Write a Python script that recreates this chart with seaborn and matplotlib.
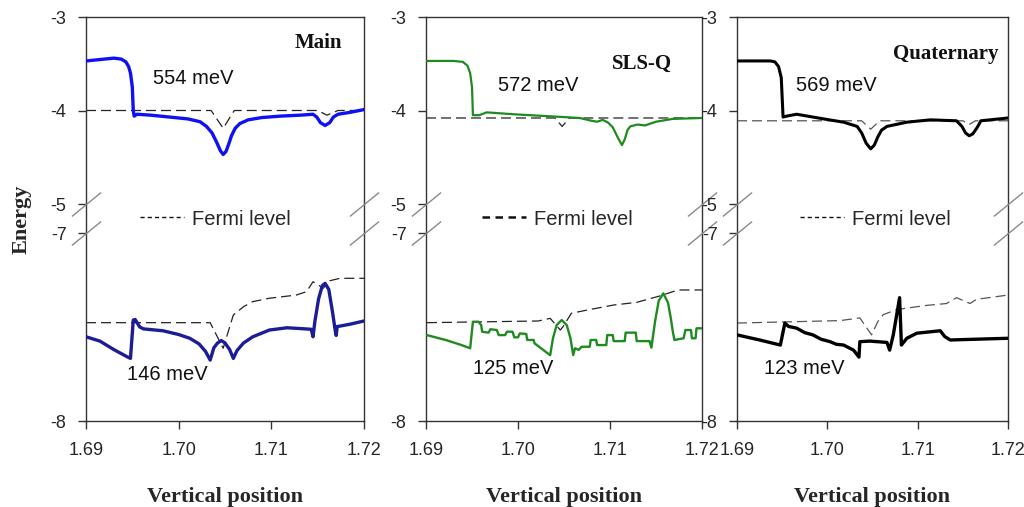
import numpy as np
import matplotlib
matplotlib.use("Agg")
import matplotlib.pyplot as plt
from matplotlib.lines import Line2D
import seaborn as sns

# ---------------- data ----------------
panel_titles = ["Main", "SLS-Q", "Quaternary"]
cb_gap_labels = ["554 meV", "572 meV", "569 meV"]
vb_gap_labels = ["146 meV", "125 meV", "123 meV"]
x_ticks = [1.69, 1.70, 1.71, 1.72]
y_ticks = [-8, -7, -5, -4, -3]

# Main
main_cb_x = [1.6900, 1.6915, 1.6930, 1.6938, 1.6943, 1.6946, 1.6948, 1.6950, 1.6951, 1.6952,
             1.6955, 1.6970, 1.6990, 1.7010, 1.7023, 1.7030, 1.7036, 1.7041, 1.7045, 1.7048,
             1.7051, 1.7054, 1.7057, 1.7061, 1.7066, 1.7075, 1.7090, 1.7110, 1.7131, 1.7145,
             1.7149, 1.7153, 1.7158, 1.7163, 1.7167, 1.7172, 1.7185, 1.7200]
main_cb_y = [-3.47, -3.455, -3.44, -3.45, -3.48, -3.53, -3.60, -3.75, -4.00, -4.06,
             -4.04, -4.05, -4.07, -4.09, -4.12, -4.17, -4.24, -4.34, -4.43, -4.47,
             -4.44, -4.36, -4.27, -4.19, -4.14, -4.10, -4.075, -4.06, -4.05, -4.04,
             -4.07, -4.13, -4.16, -4.13, -4.07, -4.04, -4.02, -3.99]
main_fe_x = [1.6900, 1.7035, 1.7048, 1.7060, 1.7150, 1.7160, 1.7172, 1.7200]
main_fe_y = [-4.00, -4.00, -4.19, -4.00, -4.00, -4.05, -4.00, -4.00]
main_vb_x = [1.6900, 1.6915, 1.6930, 1.6945, 1.6948, 1.6951, 1.6953, 1.6958, 1.6962, 1.6983,
             1.7000, 1.7012, 1.7022, 1.7029, 1.7034, 1.7038, 1.7042, 1.7046, 1.7050, 1.7055,
             1.7059, 1.7063, 1.7070, 1.7080, 1.7098, 1.7117, 1.7143, 1.7145, 1.7147, 1.7151,
             1.7155, 1.7158, 1.7162, 1.7166, 1.7169, 1.7170, 1.7171, 1.7185, 1.7200]
main_vb_y = [-7.552, -7.575, -7.620, -7.660, -7.667, -7.463, -7.460, -7.500, -7.510, -7.520,
             -7.540, -7.560, -7.590, -7.630, -7.676, -7.610, -7.585, -7.572, -7.585, -7.620,
             -7.667, -7.625, -7.585, -7.552, -7.516, -7.504, -7.512, -7.552, -7.470, -7.350,
             -7.280, -7.268, -7.300, -7.420, -7.520, -7.545, -7.498, -7.485, -7.468]
main_fh_x = [1.6900, 1.7034, 1.7048, 1.7059, 1.7070, 1.7080, 1.7098, 1.7127, 1.7138, 1.7145,
             1.7156, 1.7163, 1.7174, 1.7200]
main_fh_y = [-7.477, -7.477, -7.613, -7.436, -7.392, -7.365, -7.347, -7.330, -7.312, -7.259,
             -7.294, -7.254, -7.241, -7.241]

# SLS-Q
slsq_cb_x = [1.6900, 1.6930, 1.6940, 1.6945, 1.6948, 1.6950, 1.6951, 1.6958, 1.6966, 1.6995,
             1.7031, 1.7067, 1.7080, 1.7086, 1.7092, 1.7098, 1.7103, 1.7108, 1.7113, 1.7116,
             1.7119, 1.7122, 1.7130, 1.7138, 1.7150, 1.7168, 1.7200]
slsq_cb_y = [-3.47, -3.47, -3.48, -3.52, -3.60, -3.75, -4.05, -4.05, -4.02, -4.04,
             -4.06, -4.08, -4.11, -4.12, -4.10, -4.13, -4.18, -4.28, -4.37, -4.31,
             -4.21, -4.17, -4.15, -4.16, -4.12, -4.09, -4.08]
slsq_fe_x = [1.6900, 1.7040, 1.7048, 1.7056, 1.7200]
slsq_fe_y = [-4.08, -4.08, -4.17, -4.08, -4.08]
slsq_vb_x = [1.6901, 1.6922, 1.6938, 1.6948, 1.6951, 1.6957, 1.6960, 1.6961, 1.6968, 1.6970,
             1.6977, 1.6979, 1.6986, 1.6988, 1.6994, 1.6996, 1.7000, 1.7002, 1.7009, 1.7010,
             1.7017, 1.7018, 1.7035, 1.7038, 1.7042, 1.70475, 1.7053, 1.7057, 1.7060, 1.7062,
             1.7066, 1.7069, 1.7078, 1.7079, 1.7085, 1.7086, 1.7096, 1.7097, 1.7103, 1.7104,
             1.7116, 1.7117, 1.7128, 1.7129, 1.7143, 1.7145, 1.7149, 1.7153, 1.7158, 1.7163,
             1.7166, 1.7168, 1.7170, 1.7180, 1.7182, 1.7188, 1.7189, 1.7193, 1.7194, 1.7200]
slsq_vb_y = [-7.543, -7.570, -7.595, -7.613, -7.472, -7.472, -7.490, -7.525, -7.530, -7.512,
             -7.516, -7.543, -7.543, -7.525, -7.525, -7.555, -7.555, -7.534, -7.537, -7.569,
             -7.569, -7.587, -7.650, -7.560, -7.490, -7.463, -7.490, -7.560, -7.649, -7.613,
             -7.622, -7.605, -7.605, -7.569, -7.569, -7.596, -7.596, -7.543, -7.543, -7.575,
             -7.575, -7.530, -7.530, -7.575, -7.575, -7.610, -7.470, -7.360, -7.321, -7.370,
             -7.450, -7.516, -7.569, -7.560, -7.516, -7.516, -7.560, -7.560, -7.507, -7.507]
slsq_fh_x = [1.6901, 1.7022, 1.7035, 1.7046, 1.7049, 1.7058, 1.7075, 1.7104, 1.7129, 1.7154,
             1.7174, 1.7200]
slsq_fh_y = [-7.477, -7.468, -7.454, -7.516, -7.498, -7.427, -7.410, -7.383, -7.369, -7.335,
             -7.303, -7.303]

# Quaternary
quat_cb_x = [1.6900, 1.6937, 1.6942, 1.6946, 1.6949, 1.6951, 1.6955, 1.6966, 1.6996, 1.7018,
             1.7033, 1.7038, 1.7043, 1.7048, 1.7052, 1.7056, 1.7060, 1.7066, 1.7088, 1.7114,
             1.7143, 1.7149, 1.7153, 1.7157, 1.7161, 1.7166, 1.7170, 1.7180, 1.7200]
quat_cb_y = [-3.47, -3.47, -3.48, -3.53, -3.65, -4.07, -4.06, -4.04, -4.09, -4.125,
             -4.17, -4.24, -4.35, -4.41, -4.37, -4.28, -4.21, -4.17, -4.125, -4.10,
             -4.11, -4.17, -4.24, -4.27, -4.25, -4.18, -4.11, -4.10, -4.08]
quat_fe_x = [1.6900, 1.7038, 1.7048, 1.7058, 1.7150, 1.7157, 1.7164, 1.7200]
quat_fe_y = [-4.11, -4.11, -4.20, -4.11, -4.11, -4.15, -4.11, -4.11]
quat_vb_x = [1.6900, 1.6925, 1.6948, 1.6953, 1.6957, 1.6966, 1.6975, 1.6984, 1.6993, 1.7003,
             1.7010, 1.7018, 1.7029, 1.7035, 1.7036, 1.7047, 1.7066, 1.7069, 1.7073, 1.7080,
             1.7082, 1.7088, 1.7099, 1.7125, 1.7130, 1.7136, 1.7200]
quat_vb_y = [-7.542, -7.569, -7.596, -7.479, -7.497, -7.506, -7.530, -7.542, -7.565, -7.578,
             -7.592, -7.596, -7.623, -7.660, -7.578, -7.575, -7.582, -7.623, -7.542, -7.344,
             -7.596, -7.560, -7.533, -7.520, -7.551, -7.569, -7.560]
quat_fh_x = [1.6900, 1.7014, 1.7036, 1.7049, 1.7056, 1.7062, 1.7077, 1.7110, 1.7132, 1.7143,
             1.7158, 1.7165, 1.7200]
quat_fh_y = [-7.479, -7.466, -7.452, -7.542, -7.470, -7.434, -7.407, -7.385, -7.375, -7.344,
             -7.375, -7.353, -7.330]

cb_x = [main_cb_x, slsq_cb_x, quat_cb_x]
cb_y = [main_cb_y, slsq_cb_y, quat_cb_y]
fe_x = [main_fe_x, slsq_fe_x, quat_fe_x]
fe_y = [main_fe_y, slsq_fe_y, quat_fe_y]
vb_x = [main_vb_x, slsq_vb_x, quat_vb_x]
vb_y = [main_vb_y, slsq_vb_y, quat_vb_y]
fh_x = [main_fh_x, slsq_fh_x, quat_fh_x]
fh_y = [main_fh_y, slsq_fh_y, quat_fh_y]

# ---------------- style ----------------
sns.set_style("ticks")
plt.rcParams["font.family"] = ["Liberation Sans", "DejaVu Sans"]

cb_colors = ["#1010f5", "#1f8a1f", "#000000"]
vb_colors = ["#1c1c96", "#1f8a1f", "#000000"]
cb_lw = [2.4, 1.6, 2.2]
vb_lw = [2.4, 1.7, 2.4]
fermi_colors = ["#222222", "#222222", "#555555"]
legend_x = [0.194, 0.202, 0.232]
legend_lw = [1.0, 1.8, 1.0]

cb_lab_pos = [(1.6972, -3.66), (1.6978, -3.73), (1.6965, -3.73)]
vb_lab_pos = [(1.6944, -7.75), (1.6951, -7.72), (1.6930, -7.72)]
title_pos = [(1.7176, -3.28), (1.7168, -3.50), (1.7189, -3.40)]

ax_lefts = [86 / 1024, 426 / 1024, 737 / 1024]
ax_widths = [278 / 1024, 276 / 1024, 271 / 1024]
ax_bottom = 1 - 421 / 507
ax_height = (421 - 17) / 507


def fwd(y):
    y = np.asarray(y, dtype=float)
    return np.where(y <= -7, (y + 8) * 188.0,
                    np.where(y <= -5, 188.0 + (y + 7) * 14.5, 217.0 + (y + 5) * 93.5))


def inv(t):
    t = np.asarray(t, dtype=float)
    return np.where(t <= 188.0, t / 188.0 - 8,
                    np.where(t <= 217.0, (t - 188.0) / 14.5 - 7, (t - 217.0) / 93.5 - 5))


fig = plt.figure(figsize=(10.24, 5.07), dpi=100)
serif = ["Liberation Serif", "DejaVu Serif"]

for i in range(3):
    ax = fig.add_axes([ax_lefts[i], ax_bottom, ax_widths[i], ax_height])
    ax.set_yscale("function", functions=(fwd, inv))

    sns.lineplot(x=fe_x[i], y=fe_y[i], ax=ax, color=fermi_colors[i], lw=0.9,
                 linestyle=(0, (8, 4)), estimator=None, sort=False, zorder=2)
    sns.lineplot(x=fh_x[i], y=fh_y[i], ax=ax, color=fermi_colors[i], lw=0.9,
                 linestyle=(0, (8, 4)), estimator=None, sort=False, zorder=2)
    sns.lineplot(x=cb_x[i], y=cb_y[i], ax=ax, color=cb_colors[i], lw=cb_lw[i],
                 estimator=None, sort=False, zorder=3)
    sns.lineplot(x=vb_x[i], y=vb_y[i], ax=ax, color=vb_colors[i], lw=vb_lw[i],
                 estimator=None, sort=False, zorder=3)

    ax.set_xlim(1.69, 1.72)
    ax.set_ylim(-8, -3)
    ax.set_xticks(x_ticks)
    ax.set_xticklabels([f"{v:.2f}" for v in x_ticks])
    ax.set_yticks(y_ticks)
    ax.set_yticklabels([f"{v:d}" for v in y_ticks])
    ax.yaxis.set_minor_locator(matplotlib.ticker.NullLocator())
    ax.tick_params(axis="both", direction="out", length=6, width=1, labelsize=13,
                   color="#333333")
    ax.tick_params(axis="x", pad=9)
    ax.tick_params(axis="y", pad=8)
    for sp in ax.spines.values():
        sp.set_visible(True)
        sp.set_color("#333333")
        sp.set_linewidth(1.0)

    ax.set_xlabel("Vertical position", fontsize=16, fontweight="bold",
                  family=serif, labelpad=20)
    if i == 0:
        ax.set_ylabel("Energy", fontsize=16, fontweight="bold", family=serif, labelpad=14)
    else:
        ax.set_ylabel("")

    for xa in (0, 1):
        for yb in (-5, -7):
            ax.plot([xa], [yb], marker=[(-1, -0.82), (1, 0.82)], markersize=21,
                    color="#8a8a8a", mew=1.0, linestyle="none",
                    transform=ax.get_yaxis_transform(), clip_on=False, zorder=5)

    ax.text(*cb_lab_pos[i], cb_gap_labels[i], fontsize=14.5, ha="left", va="center",
            color="#111111")
    ax.text(*vb_lab_pos[i], vb_gap_labels[i], fontsize=14.5, ha="left", va="center",
            color="#111111")
    ax.text(*title_pos[i], panel_titles[i], fontsize=15, fontweight="bold", family=serif,
            ha="right", va="center", color="#111111")

    handle = Line2D([], [], color="#111111", lw=legend_lw[i], linestyle=(0, (3, 2.2)))
    ax.legend([handle], ["Fermi level"], loc="center left",
              bbox_to_anchor=(legend_x[i], 0.5), frameon=False, fontsize=14.5,
              handlelength=2.2, handletextpad=0.4, borderpad=0, borderaxespad=0)

fig.savefig("out.png", dpi=100)
